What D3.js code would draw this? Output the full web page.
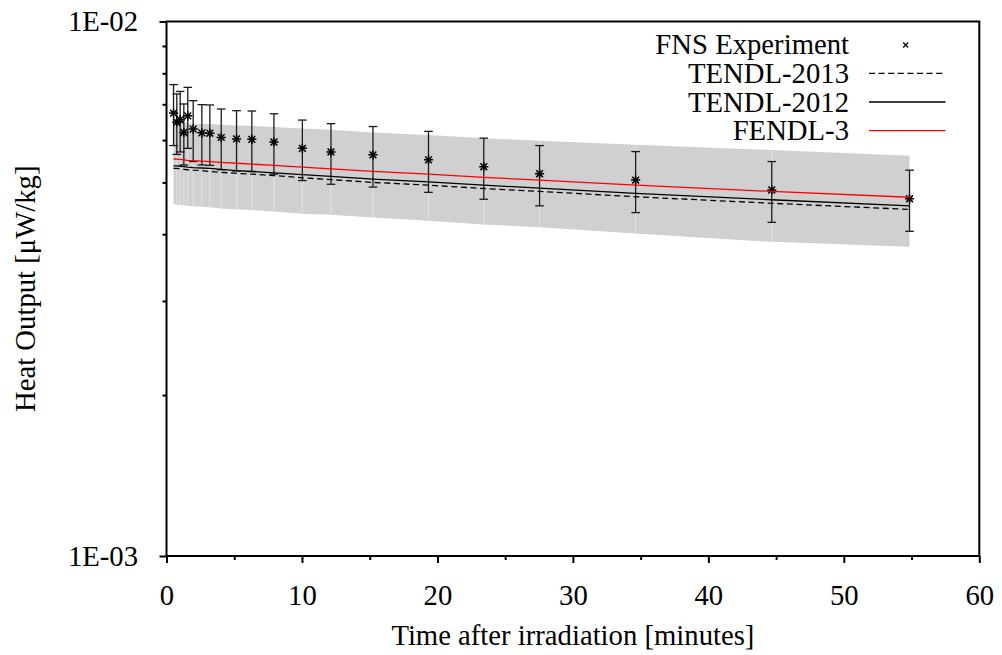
<!DOCTYPE html>
<html>
<head>
<meta charset="utf-8">
<script src="https://cdn.jsdelivr.net/npm/d3@7"></script>
<style>
  body { margin: 0; background: #fff; }
  svg { display: block; font-family: "Liberation Serif", "Times New Roman", serif; }
</style>
</head>
<body>
<div class="chart"></div>
<script>
'use strict';

// time after irradiation [minutes] of each measurement
const times = [0.52, 0.76, 1.01, 1.28, 1.57, 1.97, 2.61, 3.20, 4.04, 5.17, 6.30,
  7.93, 10.03, 12.14, 15.24, 19.34, 23.42, 27.54, 34.63, 44.68, 54.85];

// FNS experiment and its error
const expValues = [6.74e-3, 6.48e-3, 6.55e-3, 6.20e-3, 6.66e-3, 6.29e-3, 6.19e-3, 6.18e-3,
  6.07e-3, 6.03e-3, 6.02e-3, 5.95e-3, 5.79e-3, 5.70e-3, 5.63e-3, 5.51e-3, 5.35e-3,
  5.19e-3, 5.05e-3, 4.84e-3, 4.66e-3];
const expErrors = [0.88e-3, 0.84e-3, 0.85e-3, 0.81e-3, 0.87e-3, 0.82e-3, 0.80e-3, 0.80e-3,
  0.79e-3, 0.78e-3, 0.78e-3, 0.77e-3, 0.75e-3, 0.74e-3, 0.73e-3, 0.72e-3, 0.70e-3,
  0.67e-3, 0.66e-3, 0.63e-3, 0.61e-3];

// calculations
const tendl2013 = [5.31e-3, 5.31e-3, 5.30e-3, 5.29e-3, 5.28e-3, 5.27e-3, 5.26e-3, 5.24e-3,
  5.22e-3, 5.20e-3, 5.18e-3, 5.15e-3, 5.10e-3, 5.06e-3, 5.00e-3, 4.94e-3, 4.87e-3,
  4.81e-3, 4.70e-3, 4.57e-3, 4.45e-3];
const tendl2012 = [5.37e-3, 5.37e-3, 5.36e-3, 5.35e-3, 5.34e-3, 5.33e-3, 5.32e-3, 5.31e-3,
  5.29e-3, 5.26e-3, 5.24e-3, 5.21e-3, 5.17e-3, 5.13e-3, 5.07e-3, 5.01e-3, 4.94e-3,
  4.88e-3, 4.77e-3, 4.64e-3, 4.52e-3];
const fendl3 = [5.53e-3, 5.525e-3, 5.52e-3, 5.51e-3, 5.50e-3, 5.49e-3, 5.48e-3, 5.47e-3,
  5.45e-3, 5.43e-3, 5.41e-3, 5.38e-3, 5.34e-3, 5.30e-3, 5.245e-3, 5.18e-3, 5.11e-3,
  5.05e-3, 4.94e-3, 4.81e-3, 4.69e-3];

// uncertainty band
const bandUpper = [6.47e-3, 6.47e-3, 6.47e-3, 6.46e-3, 6.45e-3, 6.44e-3, 6.43e-3, 6.43e-3,
  6.41e-3, 6.39e-3, 6.38e-3, 6.35e-3, 6.31e-3, 6.27e-3, 6.20e-3, 6.13e-3, 6.05e-3,
  5.98e-3, 5.88e-3, 5.75e-3, 5.61e-3];
const bandLower = [4.55e-3, 4.54e-3, 4.54e-3, 4.53e-3, 4.52e-3, 4.51e-3, 4.50e-3, 4.49e-3,
  4.47e-3, 4.45e-3, 4.44e-3, 4.41e-3, 4.37e-3, 4.35e-3, 4.30e-3, 4.24e-3, 4.17e-3,
  4.12e-3, 4.01e-3, 3.87e-3, 3.79e-3];

// ticks
const xTicks = [0, 10, 20, 30, 40, 50, 60];
const xMinorTicks = [5, 15, 25, 35, 45, 55];
const yTicks = [1e-3, 1e-2];
const yTickLabels = ["1E-03", "1E-02"];
const yMinorTicks = [2e-3, 3e-3, 4e-3, 5e-3, 6e-3, 7e-3, 8e-3, 9e-3];

const legendNames = ["FNS Experiment", "TENDL-2013", "TENDL-2012", "FENDL-3"];

document.addEventListener('DOMContentLoaded', () => {
  const W = 1002, H = 655;
  const margin = {top: 21.5, left: 166.5, right: 22.7, bottom: 99};
  const w = W - margin.left - margin.right;
  const h = H - margin.top - margin.bottom;
  const fs = 28.7;

  const svg = d3.select(".chart")
    .append("svg")
    .attr("width", W)
    .attr("height", H);

  const g = svg.append("g")
    .attr("transform", `translate(${margin.left},${margin.top})`);

  const x = d3.scaleLinear().domain([0, 60]).range([0, w]);
  const y = d3.scaleLog().domain([1e-3, 1e-2]).range([h, 0]);

  const rows = times.map((t, i) => ({
    t, v: expValues[i], e: expErrors[i],
    lo: bandLower[i], hi: bandUpper[i]
  }));

  // grey band
  const area = d3.area()
    .x(d => x(d.t))
    .y0(d => y(d.lo))
    .y1(d => y(d.hi));
  g.append("path")
    .datum(rows)
    .attr("d", area)
    .style("fill", "#d0d0d0");
  // faint seams between band pieces
  g.selectAll(".seam")
    .data(rows.slice(1, -1))
    .enter()
    .append("line")
    .attr("x1", d => x(d.t)).attr("x2", d => x(d.t))
    .attr("y1", d => y(d.lo)).attr("y2", d => y(d.hi))
    .style("stroke", "#e2e2e2")
    .style("stroke-width", 1);

  // experiment: error bars and stars
  const cap = 4.3;
  const bars = g.selectAll(".err")
    .data(rows)
    .enter()
    .append("g")
    .attr("class", "err")
    .style("stroke", "#1a1a1a")
    .style("stroke-width", 1.3)
    .style("fill", "none");
  bars.append("line")
    .attr("x1", d => x(d.t)).attr("x2", d => x(d.t))
    .attr("y1", d => y(d.v - d.e)).attr("y2", d => y(d.v + d.e));
  bars.append("line")
    .attr("x1", d => x(d.t) - cap).attr("x2", d => x(d.t) + cap)
    .attr("y1", d => y(d.v + d.e)).attr("y2", d => y(d.v + d.e));
  bars.append("line")
    .attr("x1", d => x(d.t) - cap).attr("x2", d => x(d.t) + cap)
    .attr("y1", d => y(d.v - d.e)).attr("y2", d => y(d.v - d.e));

  const star = "M-4.6,0H4.6M0,-4.6V4.6M-3.4,-3.4L3.4,3.4M-3.4,3.4L3.4,-3.4";
  g.selectAll(".pt")
    .data(rows)
    .enter()
    .append("path")
    .attr("class", "pt")
    .attr("transform", d => `translate(${x(d.t)},${y(d.v)})`)
    .attr("d", star)
    .style("stroke", "#000")
    .style("stroke-width", 1.5)
    .style("fill", "none");

  // calculated lines
  const series = [
    {vals: tendl2013, color: "#000", dash: "6,3.6"},
    {vals: tendl2012, color: "#000", dash: null},
    {vals: fendl3, color: "#ff0000", dash: null}
  ];
  const line = d3.line()
    .x((d, i) => x(times[i]))
    .y(d => y(d));
  series.forEach(s => {
    g.append("path")
      .datum(s.vals)
      .attr("d", line)
      .style("fill", "none")
      .style("stroke", s.color)
      .style("stroke-width", 1.3)
      .style("stroke-dasharray", s.dash);
  });

  // axes
  const xAxis = g.append("g")
    .attr("transform", `translate(0,${h})`)
    .call(d3.axisBottom(x).tickValues(xTicks).tickSize(7).tickFormat(d3.format("d")));
  g.append("g")
    .attr("transform", `translate(0,${h})`)
    .call(d3.axisBottom(x).tickValues(xMinorTicks).tickSize(4).tickFormat(""));
  const yAxis = g.append("g")
    .call(d3.axisLeft(y).tickValues(yTicks).tickSize(7)
      .tickFormat((d, i) => yTickLabels[i]));
  g.append("g")
    .call(d3.axisLeft(y).tickValues(yMinorTicks).tickSize(4).tickFormat(""));

  g.selectAll(".domain").remove();
  g.selectAll(".tick line").style("stroke", "#000").style("stroke-width", 2);
  xAxis.selectAll("text")
    .attr("y", 49).attr("dy", 0)
    .style("font-size", fs + "px")
    .style("font-family", "Liberation Serif, Times New Roman, serif")
    .style("fill", "#000");
  yAxis.selectAll("text")
    .attr("x", -28.5).attr("dy", "0.33em")
    .style("font-size", fs + "px")
    .style("font-family", "Liberation Serif, Times New Roman, serif")
    .style("fill", "#000");

  // frame
  g.append("rect")
    .attr("width", w)
    .attr("height", h)
    .style("fill", "none")
    .style("stroke", "#000")
    .style("stroke-width", 2);

  // axis titles
  svg.append("text")
    .attr("x", margin.left + w / 2)
    .attr("y", 645)
    .attr("text-anchor", "middle")
    .style("font-size", fs + "px")
    .text("Time after irradiation [minutes]");
  svg.append("text")
    .attr("transform", `translate(35,${margin.top + h / 2}) rotate(-90)`)
    .attr("text-anchor", "middle")
    .style("font-size", fs + "px")
    .text("Heat Output [\u03bcW/kg]");

  // legend
  const legend = svg.append("g")
    .style("font-size", fs + "px")
    .selectAll("g")
    .data(legendNames)
    .enter()
    .append("g")
    .attr("transform", (d, i) => `translate(849,${54.3 + i * 28.6})`);
  legend.append("text")
    .attr("text-anchor", "end")
    .text(d => d);
  legend.filter((d, i) => i > 0)
    .append("line")
    .attr("x1", 20).attr("x2", 96.5)
    .attr("y1", -9.5).attr("y2", -9.5)
    .style("stroke", (d, i) => series[i].color)
    .style("stroke-width", 1.3)
    .style("stroke-dasharray", (d, i) => series[i].dash);
  legend.filter((d, i) => i === 0)
    .append("path")
    .attr("transform", "translate(56.7,-9.3)")
    .attr("d", "M-2.5,-2.5L2.5,2.5M-2.5,2.5L2.5,-2.5")
    .style("stroke", "#000")
    .style("stroke-width", 1.2);
});
</script>
</body>
</html>
